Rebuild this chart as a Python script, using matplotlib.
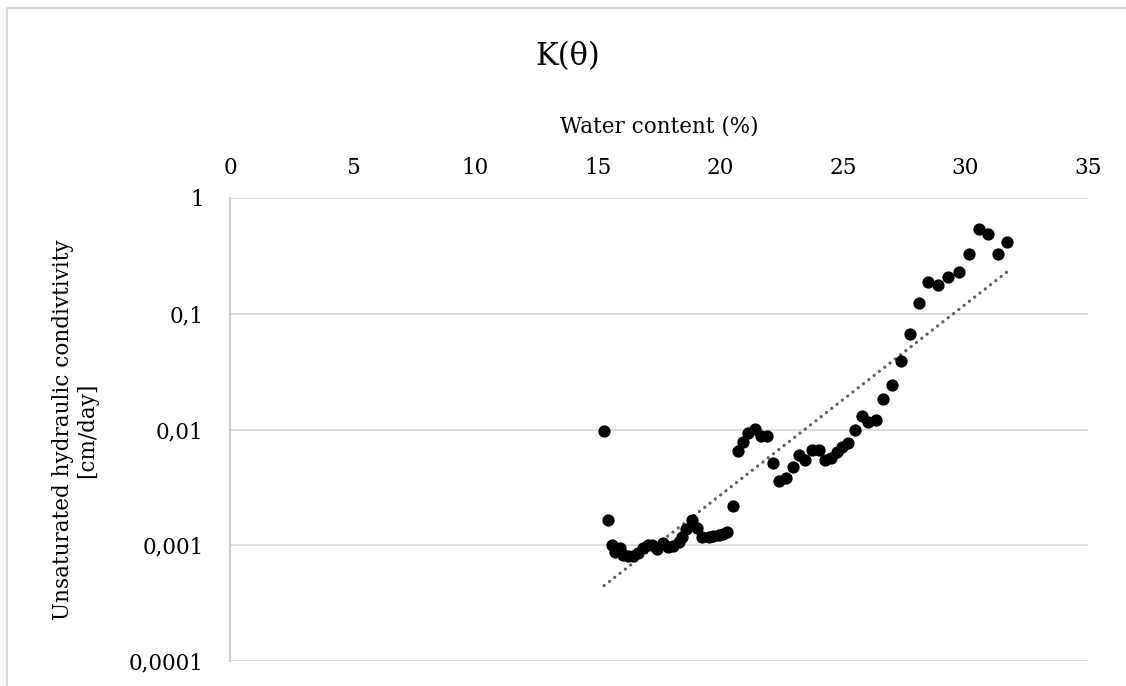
import numpy as np
import matplotlib
matplotlib.use("Agg")
import matplotlib.pyplot as plt
from matplotlib.lines import Line2D
from matplotlib.ticker import FixedLocator, FixedFormatter

# Measured water content (%) and unsaturated hydraulic conductivity (cm/day)
water_content = [
    15.26, 15.43, 15.60, 15.70, 15.90, 16.05, 16.25, 16.45, 16.66, 16.86,
    17.07, 17.20, 17.40, 17.68, 17.88, 18.09, 18.30, 18.43, 18.60, 18.86,
    19.04, 19.25, 19.52, 19.72, 19.93, 20.13, 20.29, 20.51, 20.73, 20.94,
    21.15, 21.42, 21.66, 21.92, 22.14, 22.41, 22.68, 22.96, 23.21, 23.47,
    23.76, 24.02, 24.28, 24.50, 24.75, 24.96, 25.23, 25.50, 25.77, 26.04,
    26.36, 26.65, 27.00, 27.36, 27.72, 28.10, 28.47, 28.87, 29.30, 29.72,
    30.16, 30.56, 30.94, 31.31, 31.69,
]
conductivity = [
    0.0098, 0.00165, 0.00100, 0.00088, 0.00094, 0.00083, 0.00081, 0.00081, 0.00085, 0.00094,
    0.00100, 0.00100, 0.00092, 0.00105, 0.00097, 0.00099, 0.00107, 0.00118, 0.00137, 0.00165,
    0.00140, 0.00118, 0.00118, 0.00120, 0.00122, 0.00126, 0.00130, 0.0022, 0.0065, 0.0078,
    0.0093, 0.0101, 0.0088, 0.0088, 0.0051, 0.0036, 0.0038, 0.0047, 0.0060, 0.0054,
    0.0066, 0.0067, 0.0055, 0.0057, 0.0064, 0.0070, 0.0076, 0.0099, 0.0130, 0.0117,
    0.0121, 0.0183, 0.0243, 0.0394, 0.0668, 0.123, 0.189, 0.177, 0.209, 0.228,
    0.326, 0.54, 0.49, 0.326, 0.42,
]

x_ticks = [0, 5, 10, 15, 20, 25, 30, 35]
y_ticks = [0.0001, 0.001, 0.01, 0.1, 1]
y_tick_labels = ["0,0001", "0,001", "0,01", "0,1", "1"]

title = "K(\u03b8)"
x_title = "Water content (%)"
y_title = "Unsaturated hydraulic condivtivity\n[cm/day]"

FONT = "DejaVu Serif"
FS = 15.5
TEXT_COLOR = "#000000"
GRID_COLOR = "#d9d9d9"

W, H = 1126, 686
fig = plt.figure(figsize=(W / 100, H / 100), dpi=100)
fig.patch.set_facecolor("white")

# chart-area frame (top and left edges)
fig.add_artist(Line2D([7 / W, 1.0], [1 - 8 / H, 1 - 8 / H],
                      transform=fig.transFigure, color=GRID_COLOR, lw=1.5))
fig.add_artist(Line2D([7 / W, 7 / W], [0.0, 1 - 8 / H],
                      transform=fig.transFigure, color=GRID_COLOR, lw=1.5))

ax = fig.add_axes([230 / W, 1 - 661 / H, (1088 - 230) / W, (661 - 198) / H])
ax.set_yscale("log")
ax.set_xlim(x_ticks[0], x_ticks[-1])
ax.set_ylim(y_ticks[0], y_ticks[-1])

# horizontal gridlines at each decade
for yv in y_ticks:
    ax.axhline(yv, color=GRID_COLOR, lw=1.3, zorder=0)

for side in ("top", "right", "bottom"):
    ax.spines[side].set_visible(False)
ax.spines["left"].set_color("#c6c6c6")
ax.spines["left"].set_linewidth(1.3)

ax.scatter(water_content, conductivity, s=78, color="black", zorder=3, linewidths=0)

# exponential trendline (least squares on log K)
xw = np.asarray(water_content)
slope, intercept = np.polyfit(xw, np.log(conductivity), 1)
xt = np.array([xw.min(), xw.max()])
ax.plot(xt, np.exp(intercept + slope * xt), color="#5f5f5f", lw=2.3,
        linestyle=(0, (0.05, 2.05)), dash_capstyle="round", zorder=2)

ax.xaxis.tick_top()
ax.set_xticks(x_ticks)
ax.yaxis.set_major_locator(FixedLocator(y_ticks))
ax.yaxis.set_major_formatter(FixedFormatter(y_tick_labels))
ax.yaxis.set_minor_locator(FixedLocator([]))
ax.tick_params(axis="x", length=0, pad=14, labelsize=FS, labelcolor=TEXT_COLOR)
ax.tick_params(axis="y", length=0, pad=19, labelsize=FS, labelcolor=TEXT_COLOR)
for lbl in ax.get_xticklabels() + ax.get_yticklabels():
    lbl.set_family(FONT)

# axis titles and chart title
fig.text(659 / W, 1 - 127 / H, x_title, fontsize=FS, family=FONT,
         ha="center", va="center", color=TEXT_COLOR)
fig.text(75 / W, 1 - 430 / H, y_title, fontsize=FS, family=FONT, rotation=90,
         ha="center", va="center", multialignment="center", linespacing=1.15,
         color=TEXT_COLOR)
fig.text(568 / W, 1 - 57 / H, title, fontsize=22, family=FONT,
         ha="center", va="center", color=TEXT_COLOR)

fig.savefig("out.png", dpi=100, facecolor="white")
